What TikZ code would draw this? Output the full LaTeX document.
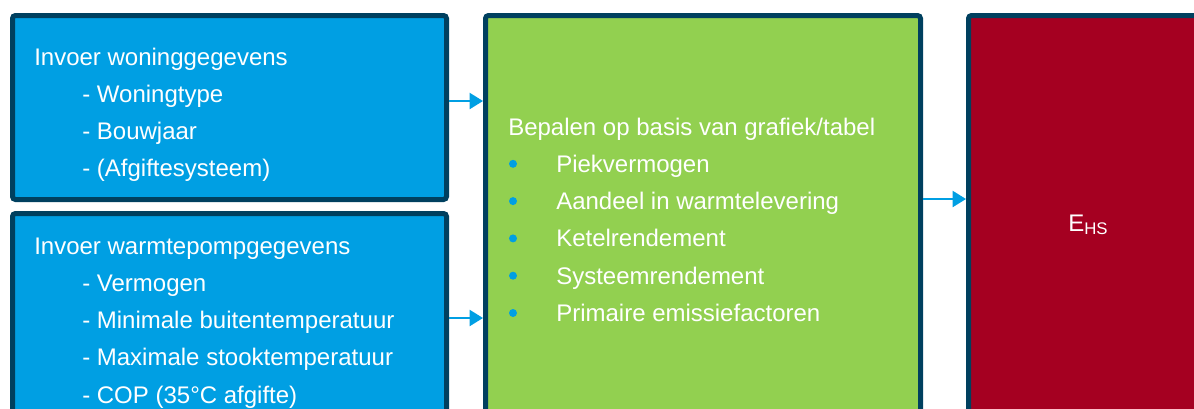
\documentclass[tikz,border=0pt]{standalone}
\usepackage{fontspec}
\setmainfont{Liberation Sans}
\usetikzlibrary{arrows.meta}
\definecolor{blauw}{RGB}{0,159,227}
\definecolor{groen}{RGB}{146,208,80}
\definecolor{rood}{RGB}{165,0,33}
\definecolor{rand}{RGB}{0,64,95}

\begin{document}
\begin{tikzpicture}[x=0.75pt,y=-0.75pt,
  blok/.style={draw=rand,line width=3.75pt,rounded corners=2.25pt,inner sep=0pt},
  tekst/.style={anchor=base west,inner sep=0pt,text=white,font=\fontsize{18}{22}\selectfont},
  stip/.style={circle,fill=blauw,inner sep=0pt,minimum size=6pt},
  pijl/.style={draw=blauw,line width=1.5pt,-{Triangle[length=10pt,width=12pt]}}]
\useasboundingbox (0,0) rectangle (1194,408);
\clip (0,0) rectangle (1194,408);
% blokken
\node[blok,fill=blauw,minimum width=325.5pt,minimum height=138pt] (w1) at (229.5,107.5) {};
\node[blok,fill=blauw,minimum width=325.5pt,minimum height=160.5pt] (w2) at (229.5,320.5) {};
\node[blok,fill=groen,minimum width=326.25pt,minimum height=309pt] (gr) at (703,221.5) {};
\node[blok,fill=rood,minimum width=194.25pt,minimum height=309pt] (ehs) at (1098,221.5) {};
% pijlen
\draw[pijl] (w1.east |- 0,101) -- (gr.west |- 0,101);
\draw[pijl] (w2.east |- 0,318) -- (gr.west |- 0,318);
\draw[pijl] (gr.east |- 0,199) -- (ehs.west |- 0,199);
% teksten
\node[tekst] (k1) at (34,65) {Invoer woninggegevens};
\foreach \t [count=\i] in {- Woningtype,- Bouwjaar,- (Afgiftesysteem)}
  \node[tekst] (a\i) at (82,65+37.3*\i) {\t};
\node[tekst] (k2) at (34,254) {Invoer warmtepompgegevens};
\foreach \t [count=\i] in {- Vermogen,- Minimale buitentemperatuur,- Maximale stooktemperatuur,- COP (35°C afgifte)}
  \node[tekst] (b\i) at (82,254+37.3*\i) {\t};
\node[tekst] (k3) at (508,135) {Bepalen op basis van grafiek/tabel};
\foreach \t [count=\i] in {Piekvermogen,Aandeel in warmtelevering,Ketelrendement,Systeemrendement,Primaire emissiefactoren}{
  \node[stip] (p\i) at (513,126.5+37.3*\i) {};
  \node[tekst] (c\i) at (556,135+37.3*\i) {\t};
}
\node[tekst] (e) at (1068,231) {E\textsubscript{HS}};
\end{tikzpicture}
\end{document}
